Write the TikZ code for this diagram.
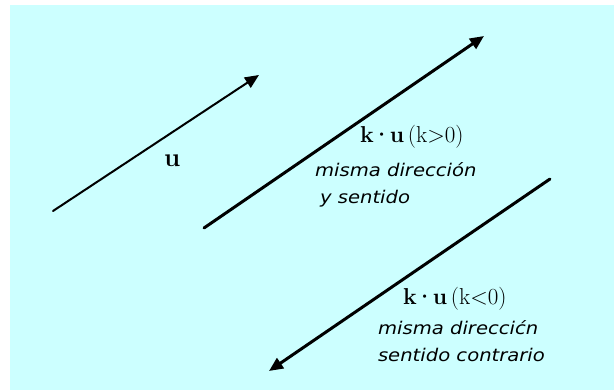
\documentclass[tikz,border=0pt]{standalone}
\usepackage{fontspec}
\newfontfamily\obl[FakeStretch=1.12]{DejaVu Sans}
\usetikzlibrary{arrows.meta}
\definecolor{bgcyan}{RGB}{204,255,255}
\newcommand{\kdotu}{\textbf{k\kern-2pt·\kern-2pt u}}
\begin{document}
\begin{tikzpicture}[x=1pt,y=-1pt,
  vec/.style={draw=black,line cap=round,-{Triangle[length=14pt,width=12pt]}},
  thinvec/.style={vec,line width=2pt},
  thickvec/.style={vec,line width=3pt},
  lab/.style={anchor=base west,inner sep=0pt,outer sep=0pt},
  serlab/.style={lab,font=\fontsize{23}{25}\selectfont},
  itlab/.style={lab,font=\obl\itshape\fontsize{17.5}{19}\selectfont}]
\useasboundingbox[fill=white] (0,0) rectangle (614,390);
\fill[bgcyan] (10,5) rectangle (614,390);
% vectors
\coordinate (u0) at (53,211);
\coordinate (u1) at (259,75);
\coordinate (p0) at (204,228);
\coordinate (p1) at (484,36);
\coordinate (n0) at (550,179);
\coordinate (n1) at (269,371);
\draw[thinvec] (u0) -- (u1);
\draw[thickvec] (p0) -- (p1);
\draw[thickvec] (n0) -- (n1);
% labels
\node[lab,font=\bfseries\fontsize{26}{28}\selectfont] (lu) at (164,167) {u};
\node[serlab] (lp) at (360,143) {\kdotu\,(k>0)};
\node[itlab] (lp1) at (315,177) {misma dirección};
\node[itlab] (lp2) at (320,204) {y sentido};
\node[serlab] (ln) at (403,305) {\kdotu\,(k<0)};
\node[itlab] (ln1) at (378,335) {misma direccićn};
\node[itlab] (ln2) at (378,362) {sentido contrario};
\end{tikzpicture}
\end{document}
